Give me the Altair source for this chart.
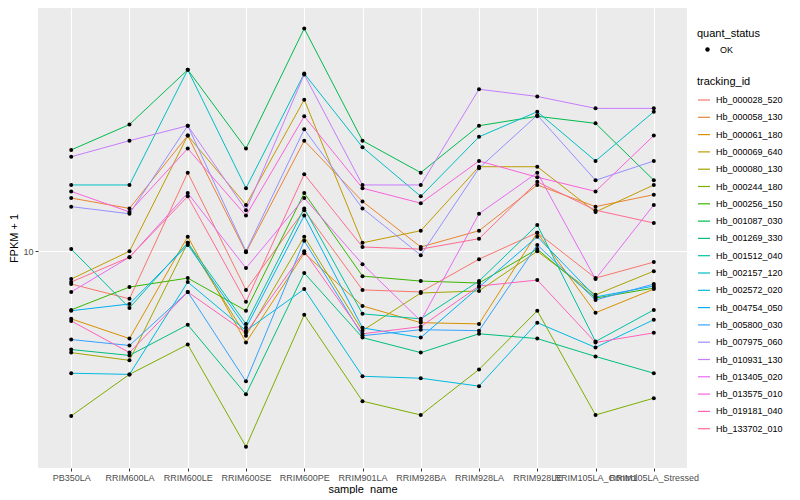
import altair as alt
import pandas as pd

samples = ["PB350LA", "RRIM600LA", "RRIM600LE", "RRIM600SE", "RRIM600PE", "RRIM901LA",
           "RRIM928BA", "RRIM928LA", "RRIM928LE", "RRIM105LA_Control", "RRIM105LA_Stressed"]

tracking_ids = ["Hb_000028_520", "Hb_000058_130", "Hb_000061_180", "Hb_000069_640",
                "Hb_000080_130", "Hb_000244_180", "Hb_000256_150", "Hb_001087_030",
                "Hb_001269_330", "Hb_001512_040", "Hb_002157_120", "Hb_002572_020",
                "Hb_004754_050", "Hb_005800_030", "Hb_007975_060", "Hb_010931_130",
                "Hb_013405_020", "Hb_013575_010", "Hb_019181_040", "Hb_133702_010"]

# FPKM + 1 per sample (same order as samples)
hb_000028_520 = [8.59, 8.02, 14.4, 8.36, 12.1, 8.36, 8.28, 9.64, 10.9, 8.83, 9.51]
hb_000058_130 = [12.8, 12.2, 17.1, 9.95, 16.7, 12.6, 10.2, 11.0, 13.6, 12.3, 13.0]
hb_000061_180 = [7.31, 6.67, 10.7, 6.55, 9.91, 7.76, 7.18, 7.14, 10.9, 7.52, 8.39]
hb_000069_640 = [8.79, 10.0, 17.1, 12.4, 20.2, 10.4, 11.0, 14.8, 14.8, 12.0, 13.6]
hb_000080_130 = [6.25, 6.03, 10.4, 6.76, 10.7, 6.92, 8.24, 8.32, 10.0, 8.17, 9.12]
hb_000244_180 = [4.66, 5.65, 6.49, 4.04, 7.45, 4.99, 4.68, 5.78, 7.59, 4.68, 5.06]
hb_000256_150 = [7.62, 8.47, 8.83, 7.59, 13.1, 8.91, 8.71, 8.63, 10.1, 8.05, 8.43]
hb_001087_030 = [16.0, 18.0, 23.2, 16.1, 28.1, 16.7, 14.4, 17.9, 18.7, 18.1, 13.9]
hb_001269_330 = [6.34, 6.17, 7.11, 5.15, 9.04, 6.70, 6.25, 6.82, 6.67, 6.14, 5.68]
hb_001512_040 = [10.1, 7.69, 10.4, 7.14, 12.2, 7.48, 7.31, 8.71, 11.3, 6.58, 7.62]
hb_002157_120 = [13.6, 13.6, 23.2, 13.4, 22.8, 16.2, 12.9, 17.0, 19.1, 15.2, 19.1]
hb_002572_020 = [5.68, 5.65, 8.67, 6.92, 8.39, 5.60, 5.55, 5.35, 7.18, 6.40, 7.28]
hb_004754_050 = [7.59, 7.83, 10.3, 7.01, 11.8, 7.01, 6.70, 8.47, 10.7, 8.09, 8.51]
hb_005800_030 = [6.64, 6.46, 8.28, 5.47, 10.5, 6.76, 6.95, 6.92, 10.3, 7.98, 8.59]
hb_007975_060 = [12.3, 11.9, 17.9, 10.0, 17.6, 12.2, 9.82, 14.7, 18.8, 13.9, 15.2]
hb_010931_130 = [15.5, 16.7, 17.9, 12.1, 22.7, 13.6, 13.6, 21.2, 20.5, 19.4, 19.4]
hb_013405_020 = [8.28, 9.73, 13.1, 9.25, 12.8, 9.42, 7.24, 11.9, 14.4, 8.79, 12.4]
hb_013575_010 = [13.2, 12.0, 16.1, 11.8, 18.7, 13.4, 12.5, 15.2, 14.1, 13.2, 17.1]
hb_019181_040 = [7.24, 6.25, 8.28, 6.85, 10.0, 6.82, 7.05, 8.51, 8.75, 6.55, 6.85]
hb_133702_010 = [8.67, 9.73, 12.9, 7.91, 14.3, 10.2, 10.1, 10.6, 13.8, 12.1, 11.4]

series = [hb_000028_520, hb_000058_130, hb_000061_180, hb_000069_640, hb_000080_130,
          hb_000244_180, hb_000256_150, hb_001087_030, hb_001269_330, hb_001512_040,
          hb_002157_120, hb_002572_020, hb_004754_050, hb_005800_030, hb_007975_060,
          hb_010931_130, hb_013405_020, hb_013575_010, hb_019181_040, hb_133702_010]

palette = ["#F8766D", "#EA8331", "#D89000", "#C09B00", "#A3A500", "#7CAE00", "#39B600",
           "#00BB4E", "#00BF7D", "#00C1A3", "#00BFC4", "#00BAE0", "#00B0F6", "#35A2FF",
           "#9590FF", "#C77CFF", "#E76BF3", "#FA62DB", "#FF62BC", "#FF6C91"]

rows = []
for tid, vals in zip(tracking_ids, series):
    for s, v in zip(samples, vals):
        rows.append({"sample_name": s, "tracking_id": tid, "fpkm1": v, "quant_status": "OK"})
df = pd.DataFrame(rows)

FONT = "Liberation Sans"

x = alt.X("sample_name:N", sort=samples,
          scale=alt.Scale(type="point", padding=0.57),
          axis=alt.Axis(title="sample_name", labelAngle=0, labelOverlap=False, labelBound=False,
                        grid=True, gridColor="white", gridWidth=1.1, titlePadding=1))
y = alt.Y("fpkm1:Q",
          scale=alt.Scale(type="log", domain=[3.66, 30.9], nice=False, zero=False),
          axis=alt.Axis(title="FPKM + 1", values=[10], format="d", grid=True,
                        gridColor="white", gridWidth=1.1, titlePadding=3))

lines = alt.Chart(df).mark_line(strokeWidth=1).encode(
    x=x, y=y,
    color=alt.Color("tracking_id:N",
                    scale=alt.Scale(domain=tracking_ids, range=palette),
                    legend=alt.Legend(orient="none", legendX=659, legendY=68, title="tracking_id",
                                      symbolType="stroke", symbolSize=144, symbolStrokeWidth=1.2,
                                      symbolOffset=0, labelOffset=5, rowPadding=5.3,
                                      padding=0, titlePadding=6)),
    order=alt.Order("order:Q") if False else alt.Undefined,
)

points = alt.Chart(df).mark_point(filled=True, color="black", size=16, opacity=1).encode(
    x=x, y=y,
    shape=alt.Shape("quant_status:N", scale=alt.Scale(range=["circle"]),
                    legend=alt.Legend(orient="none", legendX=659, legendY=20, title="quant_status",
                                      symbolSize=20, symbolFillColor="black", symbolStrokeColor="black",
                                      symbolOffset=6, labelOffset=8, padding=0, titlePadding=6)),
)

chart = alt.layer(lines, points).properties(
    width=649, height=460, padding={"left": 0, "top": 0, "right": 0, "bottom": 0}
).configure_view(
    fill="#EBEBEB", strokeWidth=0
).configure_axis(
    domain=False, tickColor="#333333", tickSize=3, labelColor="#4D4D4D", labelFontSize=9,
    labelFont=FONT, titleFont=FONT, titleFontSize=11, titleColor="black", titleFontWeight="normal",
    labelPadding=2
).configure_legend(
    titleFont=FONT, titleFontSize=11, titleFontWeight="normal", titleColor="black",
    labelFont=FONT, labelFontSize=9, labelColor="black"
)

chart.save("out.html", embed_options={"renderer": "svg", "actions": False})
